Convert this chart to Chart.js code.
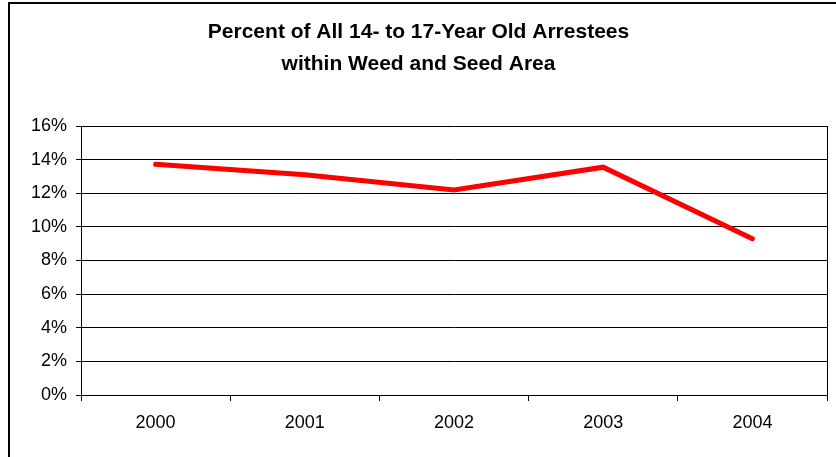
<!DOCTYPE html>
<html>
<head>
<meta charset="utf-8">
<script src="https://cdn.jsdelivr.net/npm/chart.js@4/dist/chart.umd.min.js"></script>
<style>
  html, body { margin: 0; padding: 0; background: #fff; }
  #wrap { width: 836px; height: 457px; }
</style>
</head>
<body>
<div id="wrap"><canvas id="arrestChart" width="836" height="457"></canvas></div>
<script>
// data
const years = ['2000', '2001', '2002', '2003', '2004'];
const percentInArea = [13.72, 13.1, 12.2, 13.55, 9.3];
const titleLines = ['Percent of All 14- to 17-Year Old Arrestees', 'within Weed and Seed Area'];

// frame round the whole chart (only top and left show) + box round the plot
const framePlugin = {
    id: 'frame',
    beforeDraw(chart) {
        const ctx = chart.ctx;
        ctx.save();
        ctx.fillStyle = '#fff';
        ctx.fillRect(0, 0, chart.width, chart.height);
        ctx.strokeStyle = '#000';
        ctx.lineWidth = 2;
        ctx.beginPath();
        ctx.moveTo(9, chart.height);
        ctx.lineTo(9, 3);
        ctx.lineTo(chart.width, 3);
        ctx.stroke();
        ctx.restore();
    },
    afterDatasetsDraw(chart) {
        const a = chart.chartArea;
        const ctx = chart.ctx;
        ctx.save();
        ctx.strokeStyle = '#000';
        ctx.lineWidth = 1;
        ctx.beginPath();
        ctx.moveTo(Math.round(a.right) + 0.5, a.top);
        ctx.lineTo(Math.round(a.right) + 0.5, a.bottom);
        ctx.stroke();
        ctx.restore();
    }
};

const ctx = document.getElementById('arrestChart').getContext('2d');
const arrestChart = new Chart(ctx, {
    type: 'line',
    data: {
        labels: years,
        datasets: [{
            data: percentInArea,
            borderColor: '#ff0000',
            borderWidth: 5,
            pointRadius: 0,
            tension: 0,
            borderCapStyle: 'round',
            borderJoinStyle: 'miter'
        }]
    },
    options: {
        responsive: false,
        animation: false,
        layout: { padding: { left: 10, right: 9, top: 0, bottom: 0 } },
        plugins: {
            legend: { display: false },
            tooltip: { enabled: false },
            title: {
                display: true,
                text: titleLines,
                color: '#000',
                font: { family: 'Liberation Sans, Arial, sans-serif', size: 21, weight: 'bold', lineHeight: 1.524 },
                padding: { top: 16, bottom: 46 }
            }
        },
        scales: {
            x: {
                offset: true,
                grid: { drawOnChartArea: false, drawTicks: true, tickLength: 6, color: '#000', offset: true },
                border: { color: '#000', width: 1 },
                ticks: { color: '#000', padding: 11, font: { family: 'Liberation Sans, Arial, sans-serif', size: 18 } },
                afterFit(scale) { scale.height = 62; }
            },
            y: {
                min: 0,
                max: 16,
                grid: { color: '#000', tickLength: 5 },
                border: { color: '#000', width: 1 },
                ticks: {
                    stepSize: 2,
                    color: '#000',
                    padding: 9,
                    font: { family: 'Liberation Sans, Arial, sans-serif', size: 18 },
                    callback: v => v + '%'
                },
                afterFit(scale) { scale.width = 71; }
            }
        }
    },
    plugins: [framePlugin]
});
</script>
</body>
</html>
